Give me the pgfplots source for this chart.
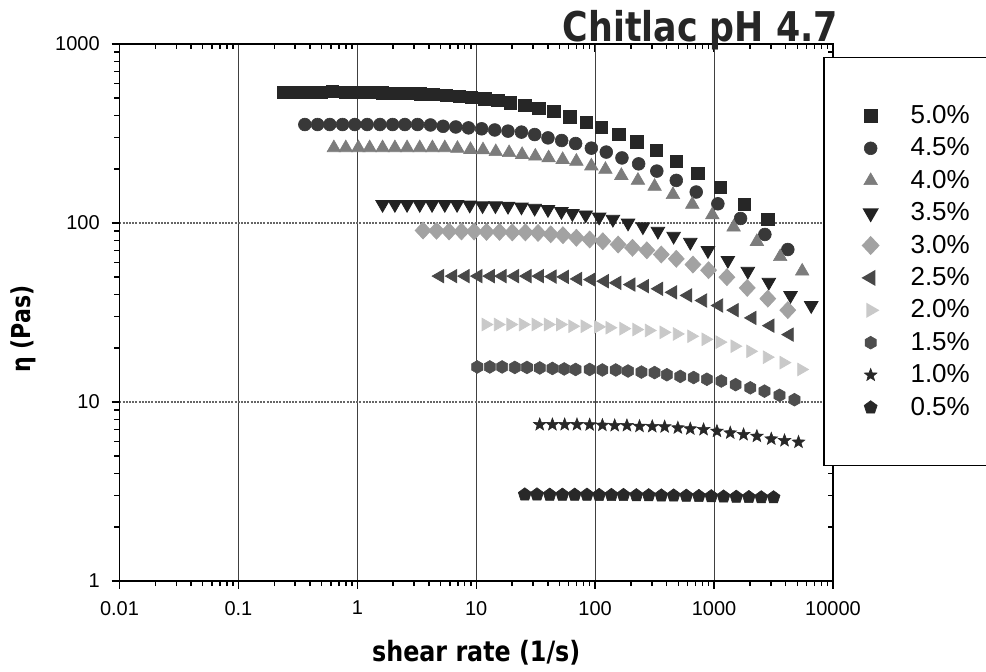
\documentclass[border=0pt]{standalone}
\usepackage{fontspec}
\setmainfont{Liberation Sans}
\newfontfamily\labfont[FakeStretch=0.85]{DejaVu Sans}
\usepackage{pgfplots}
\pgfplotsset{compat=1.18}

\definecolor{cA}{HTML}{262626}
\definecolor{cB}{HTML}{383838}
\definecolor{cC}{HTML}{7C7C7C}
\definecolor{cD}{HTML}{222222}
\definecolor{cE}{HTML}{A2A2A2}
\definecolor{cF}{HTML}{484848}
\definecolor{cG}{HTML}{C9C9C9}
\definecolor{cH}{HTML}{4E4E4E}
\definecolor{cI}{HTML}{282828}
\definecolor{cJ}{HTML}{282828}

% filled hexagon and filled star marks
\pgfdeclareplotmark{hexa}{%
  \pgfpathmoveto{\pgfpointpolar{90}{\pgfplotmarksize}}%
  \pgfpathlineto{\pgfpointpolar{150}{\pgfplotmarksize}}%
  \pgfpathlineto{\pgfpointpolar{210}{\pgfplotmarksize}}%
  \pgfpathlineto{\pgfpointpolar{270}{\pgfplotmarksize}}%
  \pgfpathlineto{\pgfpointpolar{330}{\pgfplotmarksize}}%
  \pgfpathlineto{\pgfpointpolar{30}{\pgfplotmarksize}}%
  \pgfpathclose\pgfusepathqfillstroke}
\pgfdeclareplotmark{fstar}{%
  \pgfpathmoveto{\pgfpointpolar{90}{\pgfplotmarksize}}%
  \pgfpathlineto{\pgfpointpolar{126}{0.42\pgfplotmarksize}}%
  \pgfpathlineto{\pgfpointpolar{162}{\pgfplotmarksize}}%
  \pgfpathlineto{\pgfpointpolar{198}{0.42\pgfplotmarksize}}%
  \pgfpathlineto{\pgfpointpolar{234}{\pgfplotmarksize}}%
  \pgfpathlineto{\pgfpointpolar{270}{0.42\pgfplotmarksize}}%
  \pgfpathlineto{\pgfpointpolar{306}{\pgfplotmarksize}}%
  \pgfpathlineto{\pgfpointpolar{342}{0.42\pgfplotmarksize}}%
  \pgfpathlineto{\pgfpointpolar{18}{\pgfplotmarksize}}%
  \pgfpathlineto{\pgfpointpolar{54}{0.42\pgfplotmarksize}}%
  \pgfpathclose\pgfusepathqfillstroke}

% shared by both axes
\pgfplotsset{
  every axis/.append style={
    at={(0,0)}, anchor=south west,
    scale only axis, width=356.75pt, height=268.5pt,
    xmin=0.01, xmax=10000, ymin=1, ymax=1000,
    xtick={0.01,0.1,1,10,100,1000,10000},
    ytick={1,10,100,1000},
    minor xtick={0.02,0.03,0.04,0.05,0.06,0.07,0.08,0.09,
      0.2,0.3,0.4,0.5,0.6,0.7,0.8,0.9,2,3,4,5,6,7,8,9,
      20,30,40,50,60,70,80,90,200,300,400,500,600,700,800,900,
      2000,3000,4000,5000,6000,7000,8000,9000},
    minor ytick={2,3,4,5,6,7,8,9,20,30,40,50,60,70,80,90,
      200,300,400,500,600,700,800,900},
    axis line style={line width=0.9pt},
    major tick length=4pt, minor tick length=2.5pt,
    every tick/.style={black, line width=0.7pt},
  },
  mk/.style={only marks, color=#1,
    mark options={draw=#1, fill=#1, line width=0.3pt}},
}

\begin{document}
\begin{tikzpicture}

% frame with inward ticks on top and right
\begin{loglogaxis}[tick align=inside, xtick pos=right, ytick pos=right,
  xticklabels={}, yticklabels={}]
  \addplot[draw=none] coordinates {(1,1)};
\end{loglogaxis}

\begin{loglogaxis}[tick align=outside, xtick pos=left, ytick pos=left,
  xticklabels={0.01,0.1,1,10,100,1000,10000},
  yticklabels={1,10,100,1000},
  xticklabel style={font=\fontsize{10}{12}\selectfont, yshift=-2.5pt},
  yticklabel style={font=\fontsize{10}{12}\selectfont, xshift=-2.4pt},
  grid=major,
  x grid style={black!75, line width=0.5pt},
  y grid style={black!60, line width=0.6pt, dash pattern=on 1pt off 0.6pt},
  xlabel={\labfont\bfseries shear rate (1/s)},
  xlabel style={at={(axis description cs:0.5,-0.1508)}, anchor=base,
    font=\fontsize{14}{16}\selectfont},
  ylabel={\labfont\bfseries η (Pas)},
  ylabel style={at={(axis description cs:-0.1350,0.469)}, anchor=center,
    font=\fontsize{13}{15}\selectfont},
  legend cell align=left,
  legend style={at={(rel axis cs:0.986,0.976)}, anchor=north west,
    draw=black, line width=0.8pt, fill=white,
    inner xsep=19.5pt, inner ysep=21pt, column sep=16pt, row sep=0pt,
    nodes={inner sep=0pt, minimum height=16.2pt},
    font=\fontsize{13}{15}\selectfont},
]

\addplot[mk=cA, mark=square*, mark size=3.1pt] coordinates {
(0.241,538)(0.308,536)(0.394,536)(0.500,536)(0.619,545)(0.800,536)(1.02,536)
(1.27,536)(1.62,534)(2.07,532)(2.62,530)(3.40,528)(4.33,522)(5.62,516)
(7.17,511)(9.12,505)(11.8,494)(15.2,486)(19.4,469)(25.6,455)(33.7,438)
(44.8,421)(61.1,393)(84.4,366)(113,343)(158,312)(224,284)(327,254)
(481,221)(727,190)(1127,158)(1803,127)(2831,105)};
\addlegendentry{\makebox[44pt][l]{5.0\%}}

\addplot[mk=cB, mark=*, mark size=3.2pt] coordinates {
(0.362,355)(0.463,355)(0.587,355)(0.751,355)(0.953,355)(1.21,355)(1.55,355)
(1.98,355)(2.51,355)(3.21,355)(4.12,353)(5.26,347)(6.73,344)(8.60,340)
(11.1,336)(14.3,331)(18.5,326)(24.0,322)(31.0,312)(40.1,299)(52.3,289)
(68.5,278)(92.9,262)(124,249)(168,231)(232,214)(330,195)(481,173)
(708,149)(1076,128)(1670,106)(2673,86.3)(4169,71.1)};
\addlegendentry{4.5\%}

\addplot[mk=cC, mark=triangle*, mark size=3.9pt] coordinates {
(0.635,263)(0.800,263)(1.02,263)(1.27,263)(1.63,263)(2.07,263)(2.62,263)
(3.35,263)(4.28,263)(5.44,263)(6.95,261)(8.94,257)(11.4,256)(14.6,250)
(18.9,247)(24.3,241)(31.4,236)(40.6,231)(53.3,226)(69.5,221)(92.9,208)
(122,199)(166,184)(229,173)(316,160)(451,144)(656,127)(966,111)
(1459,94.8)(2291,78.7)(3599,64.8)(5508,53.8)};
\addlegendentry{4.0\%}

\addplot[mk=cD, mark=triangle*, mark size=3.9pt,
  mark options={rotate=180}] coordinates {
(1.63,127)(2.07,127)(2.62,127)(3.35,127)(4.25,127)(5.44,127)(6.90,127)
(8.82,126)(11.3,125)(14.5,125)(18.5,124)(24.0,123)(31.0,121)(40.1,119)
(52.0,116)(64.3,113)(83.2,111)(108,108)(141,105)(189,100)(252,95.3)
(337,90.0)(457,84.4)(631,78.1)(888,70.2)(1306,61.9)(1923,53.8)
(2888,46.7)(4395,39.4)(6561,34.6)};
\addlegendentry{3.5\%}

\addplot[mk=cE, mark=diamond*, mark size=4.2pt,
  mark options={xscale=1.25}] coordinates {
(3.57,90.8)(4.63,90.5)(5.91,89.7)(7.51,89.7)(9.59,89.7)(12.2,89.2)
(15.7,89.2)(20.1,88.6)(25.9,88.6)(33.1,88.0)(42.3,86.5)(53.6,85.5)
(69.5,82.7)(89.9,80.9)(116,79.1)(156,75.8)(206,72.7)(272,70.4)(360,66.7)
(481,63.1)(664,58.6)(899,54.5)(1282,49.8)(1901,43.4)(2831,37.8)(4169,32.6)};
\addlegendentry{3.0\%}

\addplot[mk=cF, mark=triangle*, mark size=3.8pt,
  mark options={rotate=90}] coordinates {
(4.94,50.5)(6.38,50.5)(8.11,50.5)(10.4,50.5)(13.2,50.5)(16.6,50.5)
(21.1,50.5)(26.9,50.5)(34.2,50.5)(43.7,50.2)(55.4,50.0)(71.7,48.7)
(92.9,48.3)(120,47.3)(153,46.3)(201,45.3)(261,44.4)(344,42.9)(451,41.0)
(603,39.4)(805,36.9)(1098,34.6)(1486,32.6)(2094,29.5)(2965,26.7)(4306,23.8)};
\addlegendentry{2.5\%}

\addplot[mk=cG, mark=triangle*, mark size=3.6pt,
  mark options={rotate=-90}] coordinates {
(12.0,27.1)(15.2,27.1)(19.4,27.1)(24.7,27.1)(31.6,27.1)(40.1,27.1)
(50.8,27.1)(64.3,26.5)(81.6,26.5)(106,26.3)(132,26.0)(173,25.7)(222,25.4)
(283,25.1)(376,24.5)(487,24.0)(643,23.3)(848,22.4)(1112,21.6)(1486,20.5)
(2015,19.2)(2780,17.8)(3843,16.6)(5409,15.2)};
\addlegendentry{2.0\%}

\addplot[mk=cH, mark=hexa, mark size=3.2pt] coordinates {
(10.2,15.7)(13.0,15.7)(16.5,15.7)(21.1,15.6)(26.7,15.6)(34.2,15.5)
(43.7,15.4)(54.9,15.3)(68.5,15.2)(89.9,15.2)(115,15.1)(149,15.1)
(189,14.9)(245,14.7)(316,14.6)(401,14.2)(520,13.9)(673,13.7)(870,13.4)
(1151,13.1)(1518,12.5)(2018,12.0)(2655,11.5)(3548,10.9)(4742,10.3)};
\addlegendentry{1.5\%}

\addplot[mk=cI, mark=fstar, mark size=3.3pt] coordinates {
(34.2,7.48)(43.7,7.48)(55.4,7.48)(70.3,7.48)(89.9,7.46)(115,7.42)
(146,7.39)(185,7.39)(236,7.32)(302,7.30)(384,7.27)(496,7.17)(631,7.08)
(816,7.02)(1057,6.87)(1368,6.72)(1770,6.58)(2291,6.44)(3027,6.22)
(3912,6.09)(5129,5.97)};
\addlegendentry{1.0\%}

\addplot[mk=cJ, mark=pentagon*, mark size=3.4pt] coordinates {
(25.6,3.04)(32.4,3.04)(41.5,3.03)(53.0,3.03)(67.3,3.03)(85.3,3.03)
(108,3.02)(137,3.02)(173,3.02)(222,3.01)(282,3.01)(360,3.00)(457,3.00)
(584,2.99)(745,2.98)(947,2.97)(1202,2.96)(1537,2.95)(1961,2.94)
(2494,2.93)(3162,2.93)};
\addlegendentry{0.5\%}

\end{loglogaxis}

\node[anchor=base, font=\fontsize{20.5}{24}\selectfont, text=black!85]
  at (290.4pt,269.7pt) {\labfont\bfseries Chitlac pH 4.7};

\pgfresetboundingbox
\path (-59.75pt,-45pt) rectangle (433.25pt,290.5pt);
\end{tikzpicture}
\end{document}
